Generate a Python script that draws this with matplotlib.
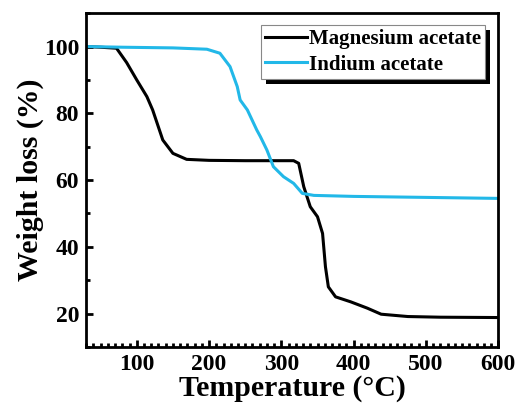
import matplotlib
matplotlib.use('Agg')
import matplotlib.pyplot as plt
from matplotlib.ticker import MultipleLocator
from matplotlib.patches import Rectangle

plt.rcParams['font.family'] = 'Liberation Serif'
plt.rcParams['font.weight'] = 'bold'

# Magnesium acetate
t_mg = [30, 50, 72, 86, 100, 114, 122, 136, 150, 169, 200, 250, 300, 317, 324,
        331, 340, 350, 357, 361, 365, 375, 396, 419, 438, 475, 520, 600]
w_mg = [100, 99.8, 99.5, 95.2, 90, 85, 81, 72, 68, 66.2, 65.9, 65.8, 65.8, 65.8, 65,
        58, 52, 49, 44, 34, 28, 25, 23.5, 21.6, 19.8, 19.1, 18.9, 18.8]

# Indium acetate
t_in = [30, 80, 150, 197, 215, 229, 239, 243, 253, 266, 271, 280, 289, 303,
        317, 329, 345, 400, 500, 600]
w_in = [100, 99.8, 99.6, 99.2, 98, 94, 88, 84, 81, 75, 73, 69, 64, 61,
        59, 56, 55.4, 55.1, 54.8, 54.5]

fig = plt.figure(figsize=(5.19, 4.12), dpi=100)
ax = fig.add_axes([0.166, 0.158, 0.794, 0.810])

ax.plot(t_mg, w_mg, color='black', lw=2.2, label='Magnesium acetate')
ax.plot(t_in, w_in, color='#22B8E8', lw=2.2, label='Indium acetate')

ax.set_xlim(30, 600)
ax.set_ylim(10, 110)
ax.xaxis.set_major_locator(MultipleLocator(100))
ax.xaxis.set_minor_locator(MultipleLocator(10))
ax.yaxis.set_major_locator(MultipleLocator(20))
ax.yaxis.set_minor_locator(MultipleLocator(10))
ax.tick_params(which='both', direction='in', width=2, labelsize=17)
ax.tick_params(which='major', length=5, pad=5)
ax.tick_params(which='minor', length=3)
for s in ax.spines.values():
    s.set_linewidth(2)
for lbl in ax.get_xticklabels() + ax.get_yticklabels():
    lbl.set_fontweight('bold')

ax.set_xlabel('Temperature (°C)', fontsize=21.5, fontweight='bold', labelpad=0)
ax.set_ylabel('Weight loss (%)', fontsize=21.5, fontweight='bold', labelpad=0)

leg = ax.legend(loc='upper right', bbox_to_anchor=(0.968, 0.964), fontsize=15,
                fancybox=False, frameon=True, framealpha=1, handlelength=2.0,
                handletextpad=0.1, borderpad=0.2, labelspacing=0.25, borderaxespad=0)
leg.get_frame().set_edgecolor('#888888')
leg.get_frame().set_facecolor('white')
leg.get_frame().set_linewidth(0.8)
for t in leg.get_texts():
    t.set_fontweight('bold')

# hard black shadow behind the legend box
fig.canvas.draw()
bb = leg.get_window_extent()
shadow = Rectangle((bb.x0 + 5, bb.y0 - 5), bb.width, bb.height, transform=None,
                   facecolor='black', edgecolor='none', zorder=4.9, clip_on=False)
ax.add_artist(shadow)

fig.savefig('out.png', dpi=100)
